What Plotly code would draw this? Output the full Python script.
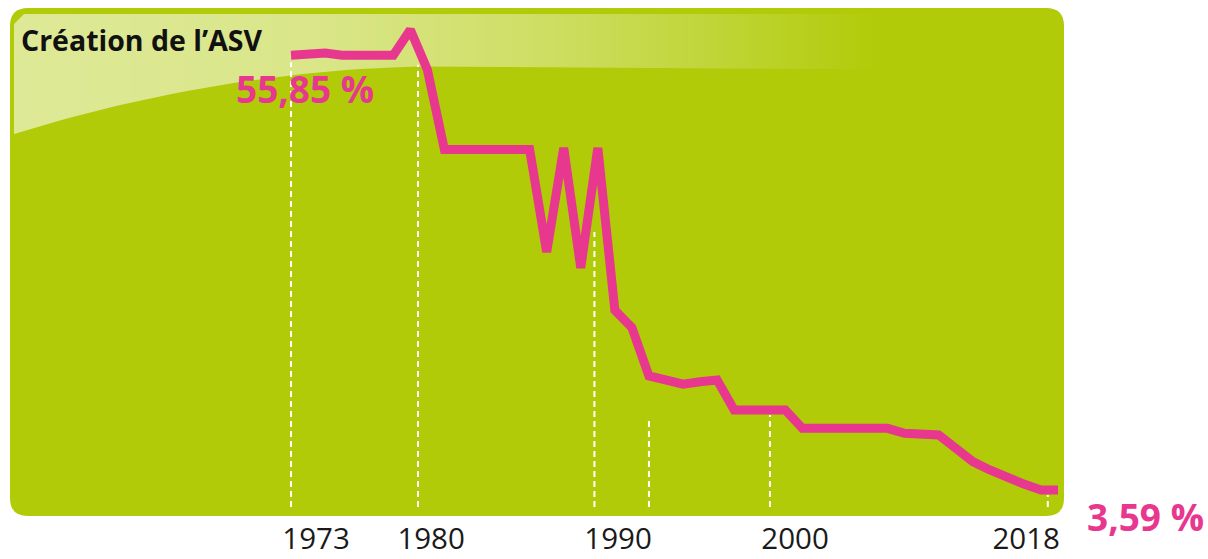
import plotly.graph_objects as go

# ---- data ----
years = list(range(1973, 2019))
share = [55.85, 55.9, 56.1, 55.85, 55.85, 55.85, 55.85, 58.9, 54.1, 44.5,
         44.5, 44.5, 44.5, 44.5, 44.5, 32.2, 44.7, 30.3, 44.7, 25.2,
         23.1, 17.3, 16.8, 16.3, 16.6, 16.8, 13.2, 13.2, 13.2, 13.2,
         11.0, 11.0, 11.0, 11.0, 11.0, 11.0, 10.4, 10.3, 10.2, 8.6,
         7.0, 6.0, 5.0, 4.3, 3.6, 3.59]
tick_labels = ["1973", "1980", "1990", "2000", "2018"]
tick_years = [1974.47, 1981.22, 1992.19, 2002.57, 2016.13]
guide_years = [1973.0, 1980.45, 1990.8, 1994.0, 2001.1, 2017.4]
guide_tops = [55.0, 54.7, 34.6, 12.24, 12.6, 2.99]
guide_bottom = 1.55
title_text = "Création de l’ASV"
start_label = "55,85 %"
end_label = "3,59 %"

# ---- style ----
W, H = 1208, 559
PLOT_H = 517
GREEN = "#B1CB08"
PINK = "#E8378F"
FONT = "Open Sans"
XR = [1955.926, 2026.80]
YR = [0.345, 62.48]

def px(x):
    return x / W

def py(y):
    return 1 - y / PLOT_H

def dx(x):
    return XR[0] + x * (XR[1] - XR[0]) / W

def dy(y):
    return YR[1] - y * (YR[1] - YR[0]) / PLOT_H

fig = go.Figure()

# glossy highlight on the panel (decoration)
def curve(x):
    if x < 454:
        return 66 + 68 * (1 - (x - 14) / 440) ** 2
    return 66 + (x - 454) * 0.008

hx0, hx1 = 14, 880
hx = [14, 24]
hy = [24, 14]
hx.append(hx1); hy.append(14)
steps = 60
for i in range(steps + 1):
    x = hx1 - (hx1 - hx0) * i / steps
    hx.append(x); hy.append(curve(x))
hx.append(14); hy.append(24)
fig.add_trace(go.Scatter(
    x=[dx(v) for v in hx], y=[dy(v) for v in hy],
    mode="lines", line=dict(width=0), fill="toself",
    fillgradient=dict(type="horizontal", colorscale=[
        [0.0, "rgba(255,255,255,0.58)"],
        [0.35, "rgba(255,255,255,0.52)"],
        [0.6, "rgba(255,255,255,0.38)"],
        [0.8, "rgba(255,255,255,0.2)"],
        [1.0, "rgba(255,255,255,0.0)"]]),
    hoverinfo="skip", showlegend=False,
))

fig.add_trace(go.Scatter(
    x=years, y=share, mode="lines",
    line=dict(color=PINK, width=9),
    hoverinfo="skip", showlegend=False,
))

shapes = []
# rounded green panel
x0, x1, y0, y1, r = 10, 1064, 8, 516, 18
path = (f"M {px(x0+r)},{py(y0)} L {px(x1-r)},{py(y0)} "
        f"Q {px(x1)},{py(y0)} {px(x1)},{py(y0+r)} "
        f"L {px(x1)},{py(y1-r)} Q {px(x1)},{py(y1)} {px(x1-r)},{py(y1)} "
        f"L {px(x0+r)},{py(y1)} Q {px(x0)},{py(y1)} {px(x0)},{py(y1-r)} "
        f"L {px(x0)},{py(y0+r)} Q {px(x0)},{py(y0)} {px(x0+r)},{py(y0)} Z")
shapes.append(dict(type="path", xref="paper", yref="paper", path=path,
                   fillcolor=GREEN, line=dict(width=0), layer="below"))

# dashed guide lines
for gx, gt in zip(guide_years, guide_tops):
    shapes.append(dict(type="line", xref="x", yref="y",
                       x0=gx, x1=gx, y0=guide_bottom, y1=gt,
                       line=dict(color="white", width=2, dash="6px,4px"),
                       layer="below"))

annotations = [
    dict(text=f"<b>{title_text}</b>", xref="paper", yref="paper",
         x=px(19), y=py(40), xanchor="left", yanchor="middle",
         showarrow=False, font=dict(family=FONT, size=28.5, color="#111111")),
    dict(text=f"<b>{start_label}</b>", xref="paper", yref="paper",
         x=px(234), y=py(88), xanchor="left", yanchor="middle",
         showarrow=False, font=dict(family=FONT, size=37, color=PINK)),
    dict(text=f"<b>{end_label}</b>", xref="paper", yref="paper",
         x=px(1085), y=py(516), xanchor="left", yanchor="middle",
         showarrow=False, font=dict(family=FONT, size=37, color=PINK)),
]

fig.update_layout(
    width=W, height=H,
    margin=dict(l=0, r=0, t=0, b=H - PLOT_H, pad=0),
    paper_bgcolor="white", plot_bgcolor="rgba(0,0,0,0)",
    shapes=shapes, annotations=annotations,
    showlegend=False,
    xaxis=dict(range=XR, showgrid=False, zeroline=False, automargin=False,
               showline=False, tickmode="array", tickvals=tick_years,
               ticktext=tick_labels, ticks="", ticklabelstandoff=1,
               tickfont=dict(family=FONT, size=29.5, color="#1a1a1a")),
    yaxis=dict(range=YR, showgrid=False, zeroline=False, automargin=False,
               showline=False, showticklabels=False, ticks=""),
)

fig.write_html("out.html", config={"displayModeBar": False},
               post_script="document.body.style.margin='0';"
                           "document.body.style.overflow='hidden';")
